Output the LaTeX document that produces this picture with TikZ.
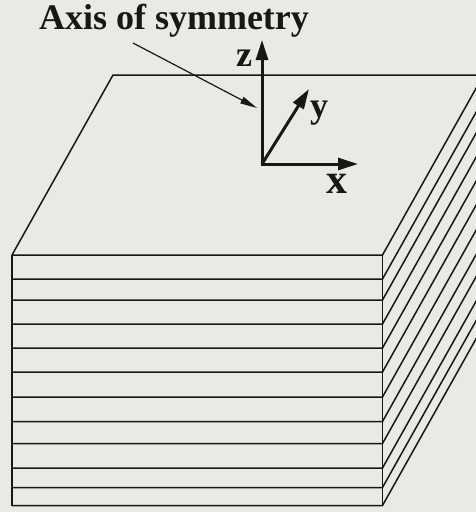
\documentclass[tikz,border=0pt]{standalone}
\usepackage{fontspec}
\setmainfont{Liberation Serif}
\usetikzlibrary{arrows.meta}
\definecolor{paper}{RGB}{233,234,228}
\definecolor{ink}{RGB}{22,24,22}
\tikzset{
  edge/.style={draw=ink, line width=1.5pt},
  axisarrow/.style={draw=ink, line width=3pt, -{Triangle[length=20pt,width=12pt]}},
  pointer/.style={draw=ink, line width=1.2pt, -{Triangle[length=17pt,width=7pt]}},
  lbl/.style={text=ink, font=\fontsize{36}{40}\selectfont\bfseries, inner sep=0pt},
  title/.style={text=ink, font=\fontsize{36}{40}\selectfont\bfseries, inner sep=0pt},
}
\begin{document}
\begin{tikzpicture}[x=1pt, y=-1pt]
  \fill[paper] (0,0) rectangle (476,512);
  \useasboundingbox (0,0) rectangle (476,512);
  \begin{scope}
    \clip (0,0) rectangle (476,512);
    % top face of the stack
    \coordinate (FL) at (12,255);
    \coordinate (FR) at (382.5,255);
    \coordinate (BL) at (113,75);
    \coordinate (BR) at (483.5,75);
    \draw[edge, line join=miter] (FL) -- (BL) -- (BR);
    % front face and layer boundaries, each with its receding side edge
    \foreach \yy in {255,279,300,324,348,372,397,421.5,443.5,468,487.5,505.5} {
      \draw[edge] (12,\yy) -- (382.5,\yy) -- ++(101,-180);
    }
    \draw[edge] (FL) -- (12,505.5);
    \draw[edge] (FR) -- (382.5,505.5);
  \end{scope}
  % coordinate axes
  \coordinate (O) at (262,164);
  \coordinate (Z) at (262,40);
  \coordinate (X) at (358,164);
  \coordinate (Y) at (309,89);
  \draw[axisarrow, shorten <=-1.5pt] (O) -- (Z);
  \draw[axisarrow, shorten <=-1.5pt] (O) -- (X);
  \draw[axisarrow] (O) -- (Y);
  \node[lbl, anchor=base] (zl) at (244,66) {z};
  \node[lbl, anchor=base] (yl) at (319,117) {y};
  \node[lbl, font=\fontsize{42}{46}\selectfont\bfseries, anchor=base] (xl) at (337,193) {x};
  % label and pointer
  \node[title, anchor=base] (t) at (174,29) {Axis of symmetry};
  \coordinate (tp) at (133,43);
  \coordinate (ap) at (257,108);
  \draw[pointer] (tp) -- (ap);
\end{tikzpicture}
\end{document}
